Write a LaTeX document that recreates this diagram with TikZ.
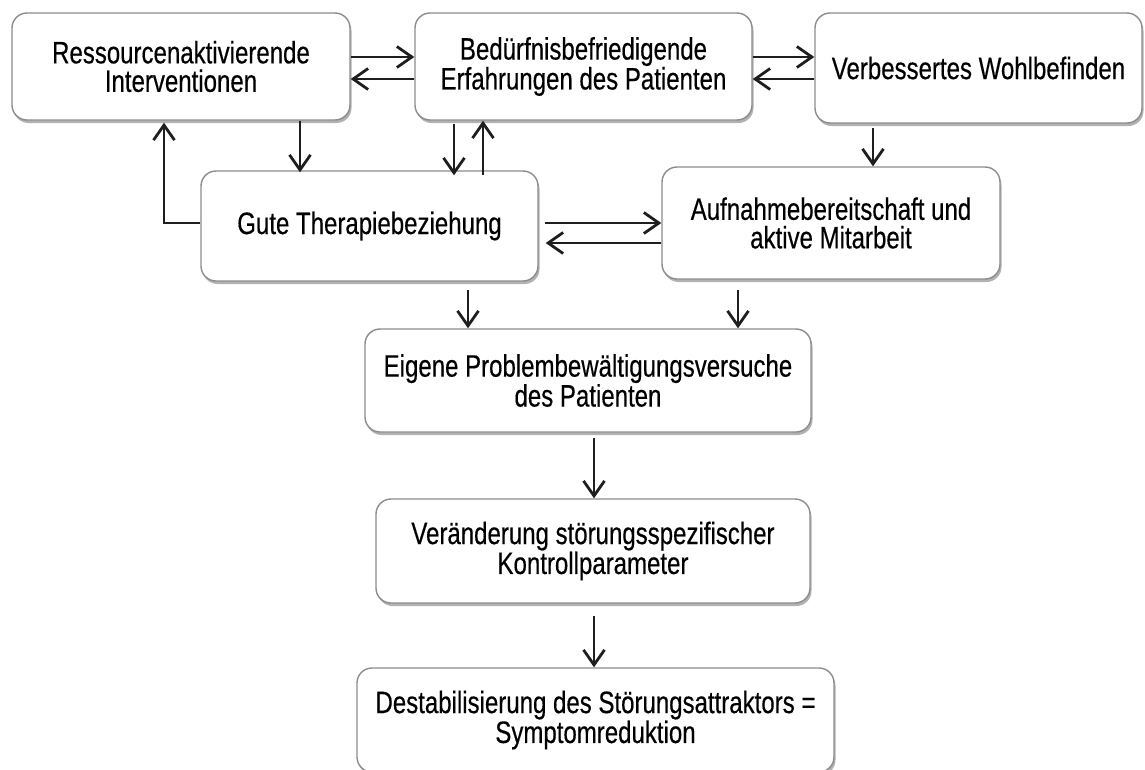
\documentclass[tikz,border=0pt]{standalone}
\usepackage{fontspec}
\setmainfont{Liberation Sans}[FakeStretch=0.775, FakeBold=0.4]
\usetikzlibrary{arrows.meta,calc,shadows}
\definecolor{boxline}{HTML}{8C8C8C}
\definecolor{arrcol}{HTML}{1E1E1E}
\tikzset{
  box/.style={draw=boxline, line width=1.4pt, rounded corners=15pt, fill=white,
    align=center, inner sep=0pt,
    font=\fontsize{31}{28.5}\selectfont,
    drop shadow={shadow xshift=1.5pt, shadow yshift=-3pt, fill=black, opacity=0.3}},
  arr/.style={draw=arrcol, line width=2.8pt,
    -{Straight Barb[length=15pt, width=21pt, line width=2.8pt]}}
}
\begin{document}
\begin{tikzpicture}[x=1pt, y=-1pt]
\useasboundingbox (0,0) rectangle (1145,769);
\clip (0,0) rectangle (1145,769);
% boxes
\node[box, minimum width=338pt, minimum height=107pt] (b1) at (181,66.5) {Ressourcenaktivierende\\Interventionen};
\node[box, minimum width=337pt, minimum height=107pt] (b2) at (583.5,66.5) {Bedürfnisbefriedigende\\Erfahrungen des Patienten};
\node[box, minimum width=327pt, minimum height=110pt] (b3) at (978.5,68) {Verbessertes Wohlbefinden};
\node[box, minimum width=337pt, minimum height=110pt] (b4) at (369.5,226) {Gute Therapiebeziehung};
\node[box, minimum width=338pt, minimum height=112pt] (b5) at (831,223) {Aufnahmebereitschaft und\\aktive Mitarbeit};
\node[box, minimum width=446pt, minimum height=103pt] (b6) at (588,380.5) {Eigene Problembewältigungsversuche\\des Patienten};
\node[box, minimum width=434pt, minimum height=104pt] (b7) at (593,551) {Veränderung störungsspezifischer\\Kontrollparameter};
\node[box, minimum width=477pt, minimum height=104pt] (b8) at (595.5,720) {Destabilisierung des Störungsattraktors =\\Symptomreduktion};
% top row arrows
\draw[arr] ($(b1.east)+(0,-9.5)$) -- ($(b2.west)+(0,-9.5)$);
\draw[arr] ($(b2.west)+(0,12.5)$) -- ($(b1.east)+(0,12.5)$);
\draw[arr] ($(b2.east)+(0,-9.5)$) -- ($(b3.west)+(0,-11)$);
\draw[arr] ($(b3.west)+(0,11)$) -- ($(b2.east)+(0,12.5)$);
% b1 <-> b4
\draw[arr] ($(b1.south)+(119,0)$) -- ($(b4.north)+(-69.5,2)$);
\draw[arr] ($(b4.west)+(0,-3)$) -| ($(b1.south)+(-17,2)$);
% b2 <-> b4
\draw[arr] ($(b2.south)+(-129.5,3)$) -- ($(b4.north)+(84.5,5)$);
\draw[arr] ($(b4.north)+(113.5,5)$) -- ($(b2.south)+(-100.5,0)$);
% b3 -> b5
\draw[arr] ($(b3.south)+(-105.5,4)$) -- ($(b5.north)+(42,0)$);
% b4 <-> b5
\draw[arr] ($(b4.east)+(6,-3)$) -- ($(b5.west)+(0,0)$);
\draw[arr] ($(b5.west)+(0,20)$) -- ($(b4.east)+(7,17)$);
% to b6
\draw[arr] ($(b4.south)+(98.5,8)$) -- ($(b6.north)+(-120,0)$);
\draw[arr] ($(b5.south)+(-93,10)$) -- ($(b6.north)+(150,0)$);
% chain
\draw[arr] ($(b6.south)+(6,5)$) -- ($(b7.north)+(1,0)$);
\draw[arr] ($(b7.south)+(1,12)$) -- ($(b8.north)+(-1.5,0)$);
\end{tikzpicture}
\end{document}
